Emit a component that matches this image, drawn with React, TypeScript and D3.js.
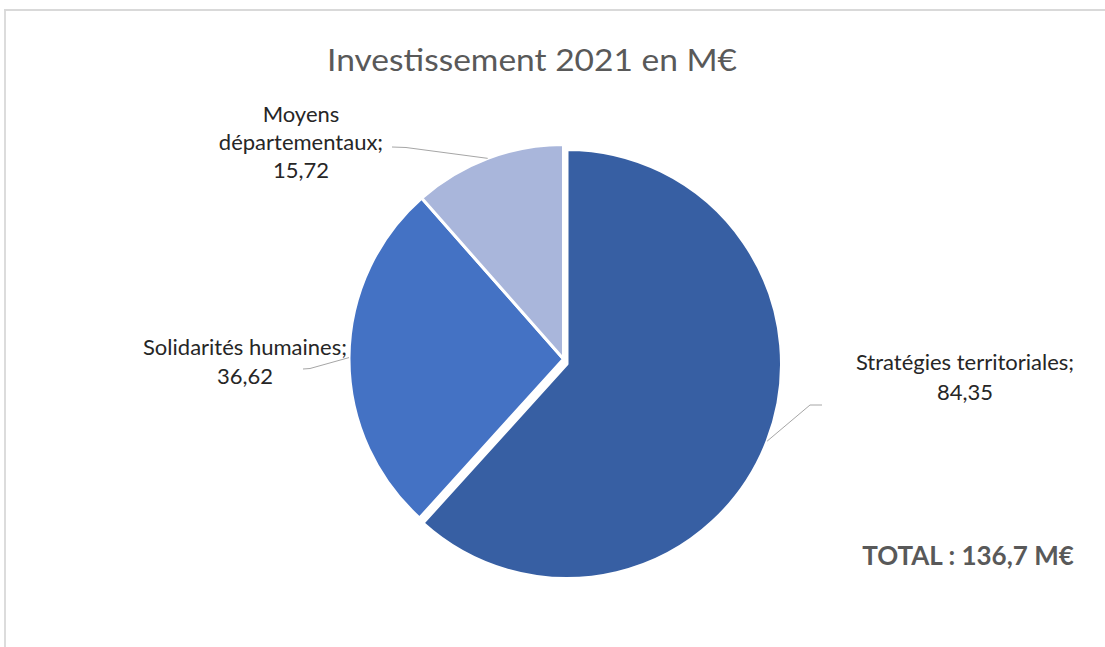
import React from "react";
import * as d3 from "d3";

const categories = ["Stratégies territoriales", "Solidarités humaines", "Moyens départementaux"];
const values = [84.35, 36.62, 15.72];
const valueLabels = ["84,35", "36,62", "15,72"];
const colors = ["#375FA3", "#4472C4", "#A9B6DB"];
const title = "Investissement 2021 en M€";
const totalLabel = "TOTAL : 136,7 M€";

const W = 1105;
const H = 647;
const cx = 563.5;
const cy = 359;
const R = 214.5;
const explode = [[3.5, 5], [0, 0], [0, 0]];

// label layout: lines, center x, first baseline, line height, leader start
const labelLayout = [
  { lines: [categories[0] + ";", valueLabels[0]], x: 965, y: 370, lh: 29.5, lead: [822, 405], bend: [810, 405] },
  { lines: [categories[1] + ";", valueLabels[1]], x: 245, y: 355, lh: 29, lead: [303, 369], bend: [310, 368.5] },
  { lines: ["Moyens", "départementaux;", valueLabels[2]], x: 301, y: 121.5, lh: 28.3, lead: [392, 147], bend: [406, 147.5] },
];

export default function App() {
  const pie = d3.pie<number>().sort(null).value((d) => d);
  const arcs = pie(values);
  const arc = d3.arc<d3.PieArcDatum<number>>().innerRadius(0).outerRadius(R);
  const edge = d3.arc<d3.PieArcDatum<number>>().innerRadius(R).outerRadius(R);
  const font = "Lato, 'Open Sans', sans-serif";

  return (
    <svg width={W} height={H} style={{ position: "absolute", left: 0, top: 0, background: "#fff" }}>
      <line x1={4} y1={10} x2={W} y2={10} stroke="#d9d9d9" strokeWidth={1.8} />
      <line x1={5} y1={10} x2={5} y2={H} stroke="#d9d9d9" strokeWidth={1.8} />
      <text x={532} y={71} textAnchor="middle" fontFamily={font} fontSize={30} fill="#595959" textLength={410} lengthAdjust="spacingAndGlyphs">
        {title}
      </text>
      {arcs.map((a, i) => (
        <path
          key={i}
          d={arc(a) || ""}
          transform={`translate(${cx + explode[i][0]},${cy + explode[i][1]})`}
          fill={colors[i]}
          stroke="#fff"
          strokeWidth={3}
          strokeLinejoin="round"
        />
      ))}
      {arcs.map((a, i) => {
        const [ex, ey] = edge.centroid(a);
        const L = labelLayout[i];
        const px = cx + explode[i][0] + ex;
        const py = cy + explode[i][1] + ey;
        return (
          <path
            key={"l" + i}
            d={`M${L.lead[0]},${L.lead[1]} L${L.bend[0]},${L.bend[1]} L${px},${py}`}
            fill="none"
            stroke="#a6a6a6"
            strokeWidth={1}
          />
        );
      })}
      {labelLayout.map((L, i) => (
        <text key={"t" + i} textAnchor="middle" fontFamily={font} fontSize={22} fill="#262626">
          {L.lines.map((s, j) => (
            <tspan key={j} x={L.x} y={L.y + j * L.lh}>
              {s}
            </tspan>
          ))}
        </text>
      ))}
      <text x={968} y={565} textAnchor="middle" fontFamily={font} fontWeight="bold" fontSize={26} fill="#595959">
        {totalLabel}
      </text>
    </svg>
  );
}
